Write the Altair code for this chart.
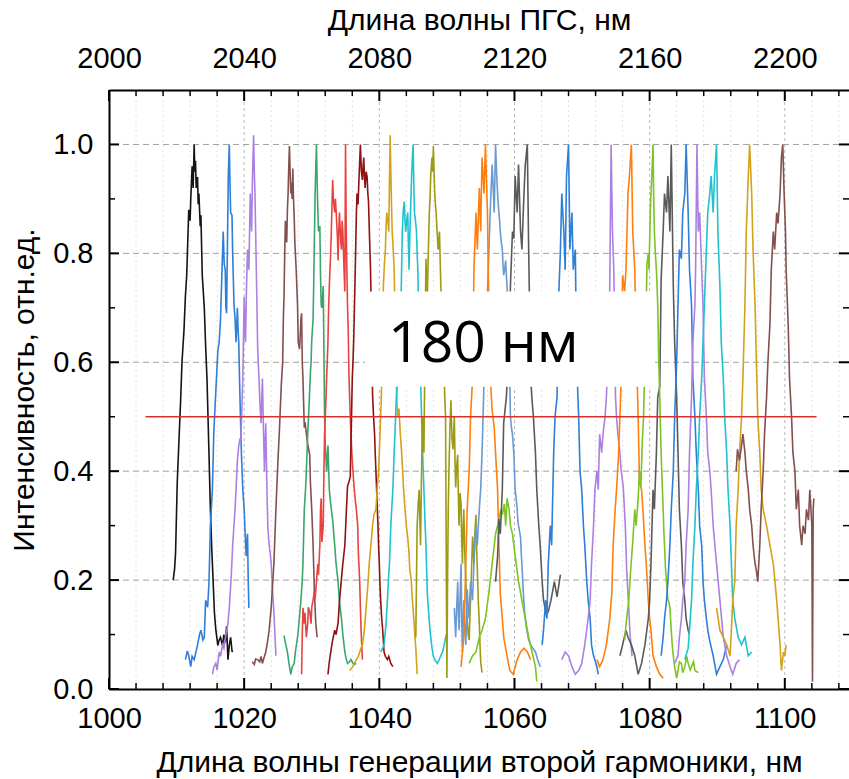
import altair as alt
import pandas as pd

# ---------------- axes / ticks ----------------
X_MAJOR = [1000, 1020, 1040, 1060, 1080, 1100]
TOP_LABELS = [2000, 2040, 2080, 2120, 2160, 2200]
X_MINOR = [1004, 1008, 1012, 1016, 1024, 1028, 1032, 1036, 1044, 1048, 1052, 1056,
           1064, 1068, 1072, 1076, 1084, 1088, 1092, 1096, 1104, 1108]
Y_MAJOR = [0.0, 0.2, 0.4, 0.6, 0.8, 1.0]
Y_MINOR = [0.1, 0.3, 0.5, 0.7, 0.9]
X_DOMAIN = [1000, 1109.5]
Y_DOMAIN = [0, 1.1]

# ---------------- spectra (x nm, relative intensity) ----------------
BLACK = [(1009.5,0.20),(1009.7,0.22),(1009.85,0.25),(1010.1,0.38),(1010.4,0.47),(1010.6,0.53),(1010.8,0.60),
         (1011.1,0.66),(1011.3,0.72),(1011.5,0.76),(1011.8,0.88),(1012.0,0.86),(1012.1,0.90),(1012.3,0.96),
         (1012.45,0.92),(1012.6,1.0),(1012.7,0.95),(1012.8,0.97),(1012.9,0.92),(1013.1,0.94),(1013.2,0.89),
         (1013.3,0.91),(1013.5,0.85),(1013.6,0.87),(1013.8,0.76),(1014.1,0.70),(1014.3,0.63),(1014.5,0.57),
         (1014.8,0.43),(1015.0,0.33),(1015.2,0.26),(1015.4,0.20),(1015.6,0.14),(1015.8,0.11),(1016.1,0.08),
         (1016.3,0.09),(1016.5,0.095),(1016.8,0.08),(1017.0,0.10),(1017.2,0.085),(1017.4,0.115),(1017.6,0.054),
         (1017.8,0.08),(1018.0,0.095),(1018.2,0.07),(1018.3,0.068)]
BLUE1 = [(1011.3,0.054),(1011.6,0.07),(1011.8,0.061),(1012.1,0.041),(1012.3,0.06),(1012.6,0.054),(1012.9,0.07),
         (1013.1,0.081),(1013.4,0.10),(1013.6,0.108),(1013.9,0.09),(1014.1,0.095),(1014.3,0.163),(1014.6,0.15),
         (1014.8,0.197),(1015.0,0.30),(1015.3,0.366),(1015.5,0.468),(1015.7,0.52),(1015.9,0.57),(1016.1,0.62),
         (1016.3,0.637),(1016.5,0.678),(1016.7,0.76),(1016.9,0.84),(1017.05,0.78),(1017.2,0.77),(1017.3,0.70),
         (1017.4,0.69),(1017.5,0.79),(1017.65,0.94),(1017.8,1.0),(1017.9,0.93),(1018.0,0.875),(1018.2,0.87),
         (1018.3,0.80),(1018.5,0.705),(1018.65,0.68),(1018.8,0.637),(1019.0,0.70),(1019.1,0.66),(1019.2,0.637),
         (1019.35,0.55),(1019.5,0.475),(1019.6,0.43),(1019.8,0.366),(1020.0,0.33),(1020.1,0.30),(1020.3,0.244),
         (1020.4,0.27),(1020.5,0.285),(1020.6,0.20),(1020.7,0.149)]
PURPLE1 = [(1015.3,0.027),(1015.5,0.04),(1015.8,0.047),(1016.0,0.035),(1016.3,0.068),(1016.5,0.06),(1016.8,0.081),
           (1017.0,0.075),(1017.3,0.10),(1017.6,0.12),(1017.8,0.149),(1018.1,0.21),(1018.3,0.264),(1018.6,0.32),
           (1018.8,0.366),(1019.0,0.42),(1019.2,0.447),(1019.4,0.46),(1019.5,0.454),(1019.7,0.53),(1019.8,0.57),
           (1020.0,0.72),(1020.1,0.66),(1020.2,0.637),(1020.35,0.74),(1020.5,0.807),(1020.6,0.78),(1020.7,0.77),
           (1020.9,0.91),(1021.0,0.87),(1021.1,0.84),(1021.25,0.95),(1021.4,1.017),(1021.5,0.95),(1021.6,0.91),
           (1021.7,0.84),(1021.8,0.77),(1021.9,0.70),(1022.0,0.624),(1022.2,0.57),(1022.35,0.52),(1022.5,0.488),
           (1022.6,0.53),(1022.7,0.57),(1022.85,0.48),(1023.0,0.40),(1023.1,0.45),(1023.2,0.488),(1023.35,0.38),
           (1023.5,0.298),(1023.7,0.264),(1023.85,0.25),(1024.0,0.23),(1024.2,0.18),(1024.4,0.142),(1024.55,0.10),
           (1024.7,0.061)]
BROWN1 = [(1021.2,0.05),(1021.5,0.045),(1021.7,0.055),(1022.0,0.054),(1022.3,0.05),(1022.5,0.06),(1022.7,0.047),
          (1023.0,0.06),(1023.2,0.068),(1023.5,0.09),(1023.7,0.108),(1024.0,0.149),(1024.2,0.19),(1024.4,0.23),
          (1024.7,0.33),(1025.0,0.42),(1025.2,0.47),(1025.3,0.50),(1025.5,0.56),(1025.7,0.60),(1025.8,0.68),
          (1025.9,0.72),(1026.0,0.80),(1026.1,0.86),(1026.2,0.83),(1026.3,0.82),(1026.4,0.88),(1026.5,0.91),
          (1026.6,0.96),(1026.7,0.997),(1026.8,0.95),(1026.9,0.91),(1027.0,0.93),(1027.1,0.90),(1027.2,0.956),
          (1027.3,0.90),(1027.4,0.868),(1027.5,0.82),(1027.7,0.77),(1027.9,0.705),(1028.0,0.637),(1028.2,0.624),
          (1028.4,0.678),(1028.5,0.69),(1028.6,0.60),(1028.7,0.57),(1028.9,0.48),(1029.0,0.49),(1029.2,0.47),
          (1029.4,0.45),(1029.7,0.43),(1029.8,0.38),(1030.0,0.33),(1030.2,0.264),(1030.4,0.176),(1030.6,0.12),
          (1030.8,0.095)]
GREEN1 = [(1025.9,0.098),(1026.1,0.085),(1026.4,0.068),(1026.6,0.05),(1026.9,0.027),(1027.1,0.04),(1027.4,0.047),
          (1027.6,0.07),(1027.9,0.095),(1028.1,0.12),(1028.4,0.163),(1028.6,0.20),(1028.7,0.23),(1028.9,0.33),
          (1029.1,0.37),(1029.2,0.40),(1029.4,0.468),(1029.6,0.52),(1029.7,0.55),(1029.8,0.58),(1029.9,0.60),
          (1030.0,0.64),(1030.2,0.68),(1030.3,0.75),(1030.4,0.83),(1030.5,0.91),(1030.6,0.96),(1030.7,1.0),
          (1030.8,0.93),(1030.9,0.88),(1031.0,0.84),(1031.2,0.85),(1031.3,0.76),(1031.4,0.705),(1031.5,0.70),
          (1031.7,0.74),(1031.8,0.62),(1031.9,0.50),(1032.0,0.45),(1032.2,0.40),(1032.4,0.447),(1032.6,0.366),
          (1032.8,0.34),(1033.1,0.31),(1033.4,0.264),(1033.6,0.23),(1033.9,0.197),(1034.1,0.16),(1034.4,0.129),
          (1034.6,0.10),(1034.9,0.068),(1035.1,0.055),(1035.3,0.047),(1035.6,0.05),(1035.8,0.054),(1036.2,0.045),
          (1036.6,0.047)]
RED1 = [(1028.5,0.027),(1028.6,0.10),(1028.7,0.149),(1028.9,0.12),(1029.0,0.14),(1029.2,0.095),(1029.4,0.12),
        (1029.5,0.15),(1029.7,0.142),(1029.9,0.12),(1030.0,0.15),(1030.2,0.163),(1030.4,0.18),(1030.5,0.165),
        (1030.7,0.197),(1030.9,0.23),(1031.0,0.21),(1031.2,0.264),(1031.3,0.33),(1031.4,0.35),(1031.5,0.27),
        (1031.7,0.30),(1031.8,0.40),(1031.9,0.468),(1032.1,0.53),(1032.2,0.57),(1032.4,0.637),(1032.5,0.70),
        (1032.6,0.74),(1032.8,0.80),(1032.9,0.84),(1033.0,0.89),(1033.1,0.935),(1033.2,0.90),(1033.4,0.875),
        (1033.5,0.90),(1033.6,0.88),(1033.8,0.83),(1033.9,0.787),(1034.0,0.84),(1034.1,0.875),(1034.3,0.82),
        (1034.4,0.807),(1034.5,0.86),(1034.6,0.84),(1034.75,0.78),(1034.9,0.73),(1035.0,1.0),(1035.1,0.85),
        (1035.2,0.77),(1035.3,0.70),(1035.4,0.66),(1035.5,0.58),(1035.7,0.50),(1035.9,0.44),(1036.1,0.40),
        (1036.3,0.366),(1036.5,0.34),(1036.6,0.33),(1036.8,0.30),(1036.9,0.25),(1037.1,0.197),(1037.2,0.15),
        (1037.3,0.108),(1037.5,0.054)]
MAROON1 = [(1032.4,0.027),(1032.6,0.05),(1032.9,0.075),(1033.1,0.09),(1033.4,0.108),(1033.6,0.10),(1033.9,0.122),
           (1034.1,0.16),(1034.4,0.203),(1034.6,0.23),(1034.9,0.264),(1035.1,0.32),(1035.3,0.373),(1035.5,0.38),
           (1035.7,0.39),(1035.85,0.48),(1036.0,0.57),(1036.1,0.60),(1036.2,0.637),(1036.35,0.72),(1036.5,0.807),
           (1036.6,0.87),(1036.7,0.91),(1036.85,0.89),(1037.0,0.94),(1037.1,0.97),(1037.2,1.0),(1037.35,0.95),
           (1037.5,0.935),(1037.6,0.96),(1037.7,0.976),(1037.8,0.94),(1037.9,0.92),(1038.05,0.95),(1038.2,0.94),
           (1038.3,0.91),(1038.4,0.895),(1038.55,0.83),(1038.7,0.77),(1038.8,0.70),(1038.9,0.637),(1039.0,0.54),
           (1039.15,0.50),(1039.3,0.468),(1039.4,0.43),(1039.5,0.40),(1039.65,0.35),(1039.8,0.30),(1039.9,0.26),
           (1040.0,0.23),(1040.1,0.19),(1040.2,0.163),(1040.35,0.13),(1040.5,0.108),(1040.7,0.068),(1040.9,0.06),
           (1041.2,0.054),(1041.4,0.06),(1041.7,0.047),(1042.0,0.041)]
GOLD1 = [(1035.6,0.034),(1036.1,0.041),(1036.6,0.054),(1036.9,0.06),(1037.1,0.068),(1037.3,0.075),(1037.5,0.081),
         (1037.8,0.11),(1038.0,0.142),(1038.3,0.19),(1038.5,0.23),(1038.8,0.27),(1039.0,0.30),(1039.2,0.32),
         (1039.5,0.33),(1039.7,0.37),(1039.9,0.40),(1040.1,0.468),(1040.3,0.536),(1040.45,0.64),(1040.6,0.74),
         (1040.75,0.78),(1040.9,0.807),(1041.0,0.85),(1041.1,0.875),(1041.25,0.86),(1041.4,0.84),(1041.5,0.93),
         (1041.6,1.017),(1041.75,0.92),(1041.9,0.84),(1042.0,0.82),(1042.2,0.77),(1042.35,0.66),(1042.5,0.57),
         (1042.6,0.53),(1042.7,0.50),(1042.9,0.515),(1043.1,0.47),(1043.3,0.434),(1043.45,0.40),(1043.6,0.366),
         (1043.8,0.33),(1044.0,0.30),(1044.2,0.278),(1044.4,0.25),(1044.5,0.22),(1044.7,0.203),(1044.9,0.163),
         (1045.1,0.129),(1045.25,0.10),(1045.4,0.075),(1045.6,0.027)]
CYAN1 = [(1040.2,0.068),(1040.5,0.075),(1040.7,0.081),(1041.0,0.12),(1041.2,0.163),(1041.35,0.20),(1041.5,0.23),
         (1041.7,0.30),(1042.0,0.366),(1042.2,0.434),(1042.35,0.48),(1042.5,0.53),(1042.7,0.57),(1043.0,0.637),
         (1043.2,0.705),(1043.3,0.77),(1043.4,0.84),(1043.55,0.88),(1043.7,0.895),(1043.8,0.86),(1043.9,0.84),
         (1044.05,0.86),(1044.2,0.875),(1044.3,0.82),(1044.4,0.77),(1044.55,0.85),(1044.7,0.91),(1044.8,0.95),
         (1044.9,0.976),(1045.0,1.0),(1045.1,0.93),(1045.2,0.875),(1045.35,0.86),(1045.5,0.84),(1045.6,0.80),
         (1045.7,0.77),(1045.8,0.70),(1045.9,0.637),(1046.0,0.60),(1046.1,0.57),(1046.25,0.50),(1046.4,0.434),
         (1046.5,0.40),(1046.6,0.366),(1046.75,0.31),(1046.9,0.264),(1047.0,0.22),(1047.1,0.176),(1047.3,0.14),
         (1047.5,0.108),(1047.8,0.075),(1048.0,0.06),(1048.2,0.054),(1048.6,0.047),(1048.9,0.055),(1049.1,0.061),
         (1049.4,0.07),(1049.6,0.081),(1049.9,0.10)]
OLIVE1 = [(1045.4,0.095),(1045.5,0.20),(1045.6,0.30),(1045.75,0.34),(1045.9,0.366),(1046.0,0.31),(1046.1,0.264),
          (1046.25,0.40),(1046.4,0.50),(1046.5,0.46),(1046.6,0.434),(1046.75,0.62),(1046.9,0.79),(1047.0,0.75),
          (1047.1,0.72),(1047.25,0.80),(1047.4,0.875),(1047.5,0.90),(1047.6,0.94),(1047.7,0.96),(1047.8,0.976),
          (1047.9,0.95),(1048.0,0.997),(1048.1,0.95),(1048.2,0.91),(1048.3,0.89),(1048.4,0.875),(1048.55,0.84),
          (1048.7,0.807),(1048.8,0.82),(1048.9,0.84),(1049.0,0.79),(1049.1,0.74),(1049.25,0.69),(1049.4,0.637),
          (1049.5,0.60),(1049.6,0.57),(1049.7,0.53),(1049.8,0.50),(1049.9,0.25),(1050.0,0.02),(1050.1,0.20),
          (1050.2,0.33),(1050.3,0.40),(1050.45,0.48),(1050.6,0.53),(1050.75,0.46),(1050.9,0.44),(1051.1,0.50),
          (1051.2,0.42),(1051.3,0.37),(1051.45,0.41),(1051.6,0.43),(1051.7,0.35),(1051.8,0.30),(1051.95,0.36),
          (1052.1,0.34),(1052.2,0.27),(1052.3,0.23),(1052.4,0.29),(1052.5,0.33),(1052.65,0.25),(1052.8,0.20),
          (1052.9,0.16),(1053.0,0.13),(1053.15,0.10),(1053.3,0.09),(1053.4,0.13),(1053.5,0.163),(1053.65,0.22),
          (1053.8,0.28),(1053.9,0.25),(1054.0,0.23),(1054.15,0.29),(1054.3,0.32),(1054.4,0.26),(1054.5,0.22),
          (1054.65,0.16),(1054.8,0.12),(1054.9,0.08),(1055.0,0.05),(1055.2,0.03)]
STEEL1 = [(1051.1,0.149),(1051.2,0.12),(1051.3,0.095),(1051.45,0.15),(1051.6,0.197),(1051.7,0.14),(1051.8,0.108),
          (1051.95,0.17),(1052.1,0.23),(1052.2,0.12),(1052.3,0.068),(1052.4,0.12),(1052.5,0.163),(1052.65,0.11),
          (1052.8,0.081),(1052.9,0.13),(1053.0,0.183),(1053.15,0.15),(1053.3,0.129),(1053.4,0.17),(1053.5,0.197),
          (1053.65,0.18),(1053.8,0.163),(1053.9,0.20),(1054.0,0.23),(1054.15,0.27),(1054.3,0.30),(1054.4,0.28),
          (1054.5,0.264),(1054.65,0.30),(1054.8,0.33),(1054.9,0.35),(1055.0,0.366),(1055.1,0.40),(1055.2,0.434),
          (1055.35,0.50),(1055.5,0.57),(1055.6,0.62),(1055.7,0.664),(1055.85,0.70),(1056.0,0.725),(1056.2,0.80),
          (1056.4,0.875),(1056.55,0.92),(1056.7,0.963),(1056.85,0.92),(1057.0,0.875),(1057.1,0.94),(1057.2,1.0),
          (1057.35,0.95),(1057.5,0.91),(1057.6,0.89),(1057.7,0.875),(1057.8,0.86),(1057.9,0.84),(1058.05,0.82),
          (1058.2,0.807),(1058.3,0.78),(1058.4,0.76),(1058.55,0.77),(1058.7,0.787),(1058.8,0.76),(1058.9,0.74),
          (1059.05,0.69),(1059.2,0.637),(1059.3,0.57),(1059.4,0.50),(1059.55,0.48),(1059.7,0.468),(1059.8,0.45),
          (1059.9,0.434),(1060.0,0.40),(1060.1,0.366),(1060.25,0.35),(1060.4,0.33),(1060.5,0.31),(1060.6,0.30),
          (1060.75,0.29),(1060.9,0.278),(1061.0,0.25),(1061.1,0.23),(1061.3,0.18),(1061.5,0.14),(1061.8,0.11),
          (1062.1,0.09),(1062.4,0.081),(1062.7,0.075),(1063.1,0.068),(1063.4,0.055),(1063.8,0.041)]
ORANGE1 = [(1052.1,0.041),(1052.5,0.095),(1052.8,0.23),(1053.0,0.33),(1053.3,0.40),(1053.5,0.50),(1053.8,0.57),
           (1054.0,0.77),(1054.3,0.875),(1054.5,0.807),(1054.8,0.92),(1055.0,0.84),(1055.2,0.976),(1055.5,0.91),
           (1055.7,1.0),(1056.0,0.875),(1056.2,0.705),(1056.5,0.556),(1056.7,0.51),(1057.0,0.48),(1057.2,0.434),
           (1057.5,0.366),(1057.7,0.264),(1057.9,0.176),(1058.2,0.129),(1058.4,0.095),(1058.9,0.061),(1059.3,0.034),
           (1059.8,0.027),(1060.4,0.054),(1060.9,0.068),(1061.4,0.075),(1061.9,0.068),(1062.4,0.054)]
LIME1 = [(1053.3,0.047),(1053.8,0.061),(1054.3,0.068),(1054.8,0.095),(1055.2,0.108),(1055.7,0.129),(1056.2,0.176),
         (1056.7,0.23),(1057.2,0.285),(1057.5,0.30),(1057.7,0.312),(1058.0,0.33),(1058.2,0.32),(1058.5,0.34),
         (1058.7,0.30),(1058.9,0.35),(1059.2,0.33),(1059.4,0.30),(1059.7,0.285),(1060.1,0.244),(1060.6,0.197),
         (1061.1,0.163),(1061.6,0.129),(1062.1,0.095),(1062.6,0.068),(1063.1,0.041),(1063.3,0.014)]
GRAY1 = [(1057.2,0.197),(1057.5,0.244),(1057.7,0.312),(1057.9,0.285),(1058.2,0.366),(1058.4,0.488),(1058.8,0.536),
         (1059.2,0.637),(1059.4,0.74),(1059.7,0.84),(1059.9,0.827),(1060.1,0.942),(1060.4,0.875),(1060.6,0.963),
         (1060.9,0.84),(1061.1,0.807),(1061.4,0.908),(1061.6,0.963),(1061.9,1.0),(1062.1,0.807),(1062.4,0.57),
         (1062.6,0.53),(1062.8,0.50),(1063.1,0.434),(1063.3,0.366),(1063.6,0.30),(1063.8,0.264),(1064.1,0.197),
         (1064.3,0.163),(1064.7,0.136),(1065.0,0.142),(1065.4,0.163),(1065.9,0.197),(1066.3,0.169),(1066.8,0.21)]
BLUE2 = [(1064.1,0.081),(1064.3,0.108),(1064.6,0.163),(1064.8,0.129),(1065.0,0.23),(1065.3,0.30),(1065.5,0.264),
         (1065.8,0.434),(1066.0,0.50),(1066.3,0.536),(1066.5,0.705),(1066.8,0.807),(1067.0,0.91),(1067.3,0.84),
         (1067.5,0.77),(1067.7,0.942),(1068.0,1.0),(1068.2,0.807),(1068.5,0.875),(1068.7,0.77),(1069.0,0.807),
         (1069.2,0.60),(1069.5,0.50),(1069.7,0.40),(1069.95,0.366),(1070.2,0.30),(1070.4,0.264),(1070.7,0.197),
         (1070.9,0.163),(1071.2,0.129),(1071.4,0.081),(1071.7,0.061),(1072.2,0.041),(1072.4,0.027)]
PURPLE2 = [(1067.0,0.054),(1067.5,0.068),(1068.0,0.061),(1068.5,0.041),(1069.0,0.027),(1069.5,0.034),(1069.95,0.047),
           (1070.4,0.081),(1070.9,0.129),(1071.2,0.163),(1071.4,0.23),(1071.7,0.30),(1071.9,0.366),(1072.2,0.40),
           (1072.4,0.366),(1072.6,0.468),(1072.9,0.434),(1073.1,0.468),(1073.4,0.50),(1073.6,0.536),(1073.9,0.637),
           (1074.1,0.74),(1074.3,1.0),(1074.5,0.84),(1074.7,0.77),(1074.95,0.536),(1075.1,0.50),(1075.3,0.468),
           (1075.6,0.434),(1075.8,0.40),(1076.1,0.37),(1076.4,0.30),(1076.6,0.22),(1076.9,0.15),(1077.1,0.10),
           (1077.4,0.06)]
ORANGE2 = [(1072.2,0.054),(1072.6,0.041),(1073.1,0.054),(1073.6,0.081),(1074.1,0.129),(1074.4,0.176),(1074.6,0.264),
           (1074.9,0.33),(1075.1,0.366),(1075.4,0.43),(1075.6,0.50),(1075.8,0.57),(1076.0,0.76),(1076.3,0.73),
           (1076.5,0.77),(1076.8,0.91),(1077.0,0.94),(1077.3,1.0),(1077.5,0.84),(1077.8,0.77),(1078.0,0.637),
           (1078.3,0.50),(1078.5,0.38),(1078.8,0.366),(1079.0,0.33),(1079.3,0.264),(1079.5,0.23),(1079.8,0.163),
           (1080.0,0.129),(1080.2,0.108),(1080.5,0.061),(1081.0,0.041),(1081.5,0.027),(1082.0,0.02)]
GRAY2 = [(1075.6,0.061),(1076.0,0.081),(1076.5,0.108),(1076.8,0.095),(1077.3,0.081),(1077.8,0.061),(1078.3,0.027),
         (1078.8,0.047),(1079.3,0.081),(1079.8,0.129),(1080.0,0.163),(1080.2,0.23),(1080.5,0.366),(1080.7,0.33),
         (1081.0,0.434),(1081.2,0.536),(1081.5,0.556),(1081.7,0.752),(1082.0,0.84),(1082.2,0.91),(1082.5,0.875),
         (1082.7,0.942),(1083.0,0.84),(1083.2,1.0),(1083.5,0.74),(1083.7,0.637),(1084.0,0.536),(1084.2,0.434),
         (1084.4,0.33),(1084.7,0.264),(1084.9,0.197),(1085.2,0.163),(1085.4,0.129),(1085.7,0.108),(1085.9,0.10)]
LIME2 = [(1076.3,0.09),(1076.6,0.13),(1076.9,0.16),(1077.2,0.22),(1077.5,0.27),(1077.8,0.33),(1078.0,0.30),
         (1078.3,0.35),(1078.5,0.40),(1078.7,0.37),(1078.9,0.45),(1079.1,0.50),(1079.3,0.60),(1079.5,0.70),
         (1079.6,0.78),(1079.8,0.80),(1079.9,0.77),(1080.0,0.82),(1080.1,0.88),(1080.2,0.91),(1080.35,0.95),
         (1080.5,1.0),(1080.6,0.90),(1080.7,0.84),(1080.85,0.80),(1081.0,0.77),(1081.1,0.74),(1081.2,0.705),
         (1081.35,0.60),(1081.5,0.536),(1081.6,0.48),(1081.7,0.434),(1081.85,0.38),(1082.0,0.33),(1082.1,0.29),
         (1082.2,0.264),(1082.35,0.22),(1082.5,0.197),(1082.7,0.163),(1082.85,0.16),(1083.0,0.149),(1083.2,0.108),
         (1083.35,0.08),(1083.5,0.061),(1083.7,0.041),(1084.0,0.02),(1084.2,0.034),(1084.4,0.05),(1084.7,0.047),
         (1084.9,0.03),(1085.2,0.041),(1085.5,0.06),(1085.7,0.047),(1086.0,0.035),(1086.2,0.041),(1086.5,0.05),
         (1086.7,0.034),(1087.2,0.03)]
BLUE3 = [(1081.7,0.061),(1082.0,0.095),(1082.2,0.129),(1082.5,0.163),(1082.7,0.197),(1083.0,0.264),(1083.2,0.33),
         (1083.5,0.40),(1083.7,0.50),(1084.0,0.60),(1084.2,0.705),(1084.4,0.807),(1084.7,0.79),(1084.9,0.875),
         (1085.2,0.91),(1085.4,1.0),(1085.7,0.875),(1085.9,0.77),(1086.2,0.705),(1086.4,0.57),(1086.7,0.50),
         (1086.9,0.434),(1087.2,0.366),(1087.4,0.30),(1087.7,0.264),(1087.9,0.197),(1088.1,0.163),(1088.4,0.129),
         (1088.6,0.108),(1088.9,0.088),(1089.4,0.061),(1089.9,0.027),(1090.4,0.041),(1090.9,0.054),(1091.4,0.081)]
PURPLE3 = [(1083.7,0.047),(1084.2,0.061),(1084.4,0.095),(1084.7,0.129),(1084.9,0.163),(1085.2,0.197),(1085.4,0.264),
           (1085.7,0.33),(1085.9,0.434),(1086.2,0.536),(1086.4,0.637),(1086.7,0.705),(1086.8,0.77),(1087.0,1.0),
           (1087.2,0.84),(1087.4,0.875),(1087.7,0.77),(1087.9,0.705),(1088.1,0.57),(1088.4,0.50),(1088.6,0.434),
           (1088.9,0.40),(1089.1,0.366),(1089.4,0.30),(1089.9,0.23),(1090.4,0.163),(1090.9,0.095),(1091.4,0.061),
           (1091.9,0.041),(1092.3,0.027),(1092.8,0.047),(1093.3,0.054)]
CYAN2 = [(1085.2,0.054),(1085.7,0.075),(1085.9,0.108),(1086.2,0.163),(1086.4,0.23),(1086.7,0.30),(1086.9,0.366),
         (1087.2,0.434),(1087.4,0.50),(1087.7,0.57),(1087.9,0.637),(1088.1,0.705),(1088.4,0.807),(1088.6,0.875),
         (1088.9,0.91),(1089.1,0.942),(1089.4,0.875),(1089.6,0.942),(1089.9,1.0),(1090.1,0.84),(1090.4,0.74),
         (1090.6,0.637),(1090.9,0.57),(1091.1,0.50),(1091.4,0.434),(1091.6,0.366),(1091.9,0.30),(1092.1,0.23),
         (1092.3,0.163),(1092.6,0.129),(1093.1,0.095),(1093.6,0.081),(1094.1,0.095),(1094.6,0.061),(1095.1,0.068)]
GOLD2 = [(1089.9,0.149),(1090.4,0.108),(1090.9,0.095),(1091.4,0.081),(1091.9,0.061),(1092.1,0.108),(1092.3,0.163),
         (1092.6,0.197),(1092.8,0.30),(1093.1,0.366),(1093.3,0.434),(1093.6,0.50),(1093.8,0.57),(1094.1,0.705),
         (1094.3,0.84),(1094.6,0.942),(1094.8,1.0),(1095.1,0.91),(1095.3,0.807),(1095.6,0.705),(1095.8,0.60),
         (1096.0,0.50),(1096.3,0.434),(1096.5,0.366),(1096.8,0.33),(1097.3,0.30),(1097.8,0.264),(1098.3,0.23),
         (1098.8,0.163),(1099.3,0.081),(1099.5,0.034),(1099.8,0.068),(1100.0,0.061),(1100.2,0.081)]
BROWN2 = [(1092.8,0.40),(1093.0,0.44),(1093.3,0.42),(1093.6,0.447),(1093.8,0.468),(1094.1,0.434),(1094.3,0.40),
          (1094.6,0.366),(1094.8,0.33),(1095.1,0.30),(1095.3,0.264),(1095.6,0.23),(1095.8,0.217),(1096.0,0.197),
          (1096.3,0.264),(1096.5,0.33),(1096.8,0.40),(1097.0,0.468),(1097.3,0.536),(1097.5,0.60),(1097.8,0.67),
          (1098.0,0.77),(1098.3,0.84),(1098.5,0.807),(1098.8,0.875),(1099.0,0.855),(1099.3,0.91),(1099.5,0.976),
          (1099.7,1.0),(1099.9,0.91),(1100.1,0.84),(1100.2,0.77),(1100.5,0.67),(1100.7,0.57),(1101.0,0.50),
          (1101.2,0.434),(1101.5,0.40),(1101.7,0.33),(1102.0,0.366),(1102.2,0.30),(1102.5,0.264),(1102.7,0.30),
          (1103.0,0.285),(1103.2,0.33),(1103.5,0.31),(1103.7,0.366),(1104.0,0.30),(1104.1,0.014),(1104.2,0.33),
          (1104.3,0.35)]

SERIES = [
    ("black", "#141414", BLACK), ("blue1", "#2f7fd6", BLUE1), ("purple1", "#ac80e2", PURPLE1),
    ("brown1", "#82504e", BROWN1), ("green1", "#3aa66e", GREEN1), ("red1", "#e8433f", RED1),
    ("maroon1", "#8e1212", MAROON1), ("gold1", "#d4a21a", GOLD1), ("cyan1", "#1ec3cf", CYAN1),
    ("olive1", "#9c9b14", OLIVE1), ("steel1", "#6a9ad2", STEEL1), ("orange1", "#ff7f0e", ORANGE1),
    ("lime1", "#7cc423", LIME1), ("gray1", "#5a5a5a", GRAY1), ("blue2", "#2f7fd6", BLUE2),
    ("purple2", "#ac80e2", PURPLE2), ("orange2", "#ff7f0e", ORANGE2), ("gray2", "#5a5a5a", GRAY2),
    ("lime2", "#7cc423", LIME2), ("blue3", "#2f7fd6", BLUE3), ("purple3", "#ac80e2", PURPLE3),
    ("cyan2", "#1ec3cf", CYAN2), ("gold2", "#d4a21a", GOLD2), ("brown2", "#82504e", BROWN2),
]

HALF_LEVEL = 0.5
HALF_X = [1005.4, 1104.7]
BOX_X = [1037.9, 1080.8]
BOX_Y = [0.555, 0.73]
LABEL_POS = (1041.3, 0.601)
LABEL_TEXT = "180 нм"

# ---------------- build ----------------
rows = []
for k, (name, col, pts) in enumerate(SERIES):
    for i, (x, y) in enumerate(pts):
        rows.append({"x": x, "y": y, "s": f"{k:02d}_{name}", "c": col, "i": i})
df = pd.DataFrame(rows)

W, H = 740, 599
FONT = "Liberation Sans"
LFS = 29   # tick label size
TFS = 30   # title size
xs = alt.Scale(domain=X_DOMAIN, nice=False, zero=False)
ys = alt.Scale(domain=Y_DOMAIN, nice=False, zero=False)

bottom_axis = alt.Axis(orient="bottom", values=X_MAJOR, format="d", ticks=False, grid=False,
                       domainColor="black", domainWidth=2, labelFont=FONT, labelFontSize=LFS,
                       labelColor="black", labelPadding=15, labelFlush=False,
                       title="Длина волны генерации второй гармоники, нм", titleFont=FONT,
                       titleFontSize=TFS, titleFontWeight="normal", titleColor="black",
                       titlePadding=14, zindex=2)
top_expr = "".join(f"datum.value == {b} ? '{t}' : " for b, t in zip(X_MAJOR, TOP_LABELS)) + "''"
top_axis = alt.Axis(orient="top", values=X_MAJOR, labelExpr=top_expr, ticks=False, grid=False,
                    domainColor="black", domainWidth=2, labelFont=FONT, labelFontSize=LFS,
                    labelColor="black", labelPadding=17, labelFlush=False,
                    title="Длина волны ПГС, нм", titleFont=FONT, titleFontSize=TFS,
                    titleFontWeight="normal", titleColor="black", titlePadding=9, zindex=2)
left_axis = alt.Axis(orient="left", values=Y_MAJOR, format=".1f", ticks=False, grid=False,
                     domainColor="black", domainWidth=2, labelFont=FONT, labelFontSize=LFS,
                     labelColor="black", labelPadding=16, labelFlush=False,
                     title="Интенсивность, отн.ед.", titleFont=FONT, titleFontSize=TFS,
                     titleFontWeight="normal", titleColor="black", titlePadding=13, zindex=2)

hgrid = alt.Chart(pd.DataFrame({"y": Y_MAJOR[1:]})).mark_rule(
    color="#a0a0a0", strokeWidth=1, strokeDash=[6, 4]).encode(
    y=alt.Y("y:Q", scale=ys, axis=None))
vgrid_minor = alt.Chart(pd.DataFrame({"x": X_MINOR})).mark_rule(
    color="#e2e2e2", strokeWidth=1, strokeDash=[2, 3]).encode(
    x=alt.X("x:Q", scale=xs, axis=None))
vgrid_major = alt.Chart(pd.DataFrame({"x": X_MAJOR[1:]})).mark_rule(
    color="#b8b8b8", strokeWidth=1, strokeDash=[3, 3]).encode(
    x=alt.X("x:Q", scale=xs, axis=None))

lines = alt.Chart(df).mark_line(strokeWidth=1.6, clip=True).encode(
    x=alt.X("x:Q", scale=xs, axis=bottom_axis),
    y=alt.Y("y:Q", scale=ys, axis=left_axis),
    color=alt.Color("c:N", scale=None),
    detail="s:N",
    order=alt.Order("i:Q"),
)

half = alt.Chart(pd.DataFrame({"x": [HALF_X[0]], "x2": [HALF_X[1]], "y": [HALF_LEVEL]})).mark_rule(
    color="#d8302c", strokeWidth=1.6).encode(
    x=alt.X("x:Q", scale=xs, axis=top_axis), x2="x2:Q",
    y=alt.Y("y:Q", scale=ys, axis=None))

box = alt.Chart(pd.DataFrame({"x": [BOX_X[0]], "x2": [BOX_X[1]], "y": [BOX_Y[0]], "y2": [BOX_Y[1]]})).mark_rect(
    color="white").encode(
    x=alt.X("x:Q", scale=xs, axis=None), x2="x2:Q",
    y=alt.Y("y:Q", scale=ys, axis=None), y2="y2:Q")

label = alt.Chart(pd.DataFrame({"x": [LABEL_POS[0]], "y": [LABEL_POS[1]], "t": [LABEL_TEXT]})).mark_text(
    font="Open Sans", fontSize=57, align="left", baseline="alphabetic", color="black").encode(
    x=alt.X("x:Q", scale=xs, axis=None), y=alt.Y("y:Q", scale=ys, axis=None), text="t:N")

def xticks(vals, y0, y1, w):
    return alt.Chart(pd.DataFrame({"x": vals})).mark_rule(color="black", strokeWidth=w).encode(
        x=alt.X("x:Q", scale=xs, axis=None), y=alt.value(y0), y2=alt.value(y1))

def yticks(vals, x0, x1, w):
    return alt.Chart(pd.DataFrame({"y": vals})).mark_rule(color="black", strokeWidth=w).encode(
        y=alt.Y("y:Q", scale=ys, axis=None), x=alt.value(x0), x2=alt.value(x1))

ticks = [
    xticks(X_MAJOR, H, H - 11, 2), xticks(X_MINOR, H, H - 6, 1.5),
    xticks(X_MAJOR, 0, 11, 2), xticks(X_MINOR, 0, 6, 1.5),
    yticks(Y_MAJOR, 0, 10, 2), yticks(Y_MINOR, 0, 6, 1.5),
    yticks(Y_MAJOR, W, W - 10, 2), yticks(Y_MINOR, W, W - 6, 1.5),
]

chart = alt.layer(vgrid_minor, vgrid_major, hgrid, lines, half, box, label, *ticks).resolve_axis(
    x="independent", y="independent"
).properties(
    width=W, height=H,
    padding={"left": 109, "top": 90, "right": 0, "bottom": 90},
    autosize=alt.AutoSizeParams(type="none"),
    background="white",
).configure_view(stroke=None)

chart.save("out.html", embed_options={"renderer": "svg", "actions": False})
